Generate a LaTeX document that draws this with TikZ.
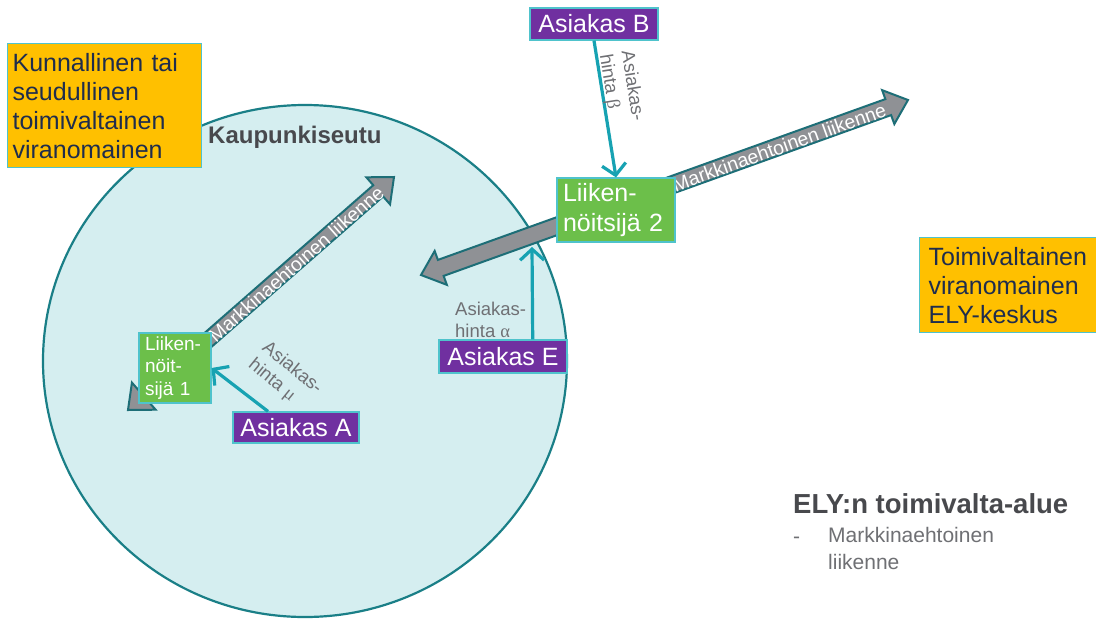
\documentclass[tikz,border=0pt]{standalone}
\usepackage{fontspec}
\setmainfont{Liberation Sans}
\newfontfamily\grk{Liberation Serif}
\usetikzlibrary{calc,arrows.meta}
\definecolor{orangeC}{HTML}{FFC000}
\definecolor{navy}{HTML}{1F2D4D}
\definecolor{boxline}{HTML}{4FC3CC}
\definecolor{purpleC}{HTML}{7030A0}
\definecolor{greenC}{HTML}{6CBF4A}
\definecolor{cityfill}{HTML}{D5EEF0}
\definecolor{cityline}{HTML}{1A7F87}
\definecolor{arrowC}{HTML}{17A2B2}
\definecolor{grayfill}{HTML}{8F9195}
\definecolor{grayline}{HTML}{1D6E77}
\definecolor{lblgray}{HTML}{6F7074}
\definecolor{darkgray}{HTML}{48494D}
\newcommand\dblarrow[3]{%
  \coordinate (ha) at ($(#1)!21pt!(#2)$);
  \coordinate (hb) at ($(#2)!21pt!(#1)$);
  \draw[bigarrow] (#1) -- ($(ha)!18pt!90:(#2)$) -- ($(ha)!#3!90:(#2)$)
    -- ($(hb)!#3!-90:(#1)$) -- ($(hb)!18pt!-90:(#1)$) -- (#2)
    -- ($(hb)!18pt!90:(#1)$) -- ($(hb)!#3!90:(#1)$)
    -- ($(ha)!#3!-90:(#2)$) -- ($(ha)!18pt!-90:(#2)$) -- cycle;
}
\begin{document}
\begin{tikzpicture}[x=1pt,y=-1pt,
  orangebox/.style={draw=boxline, line width=1.2pt, fill=orangeC, text=navy, align=left, inner ysep=0pt, font=\fontsize{25}{29}\selectfont},
  purplebox/.style={draw=boxline, line width=1.2pt, fill=purpleC, text=white, inner sep=0pt, font=\fontsize{25}{30}\selectfont},
  greenbox/.style={draw=boxline, line width=1.2pt, fill=greenC, text=white, align=left, inner ysep=0pt},
  bigarrow/.style={draw=grayline, fill=grayfill, line width=2pt, line join=miter},
  arrowtext/.style={text=white, font=\fontsize{19.5}{21}\selectfont, inner sep=0pt},
  smallarrow/.style={draw=arrowC, line width=3.2pt, -{Straight Barb[length=11pt, width=24pt, line width=3.2pt]}},
  lbl/.style={text=lblgray, font=\fontsize{18.5}{22}\selectfont, align=left, inner sep=0pt},
]
\useasboundingbox (0,0) rectangle (1096,619);
\fill[white] (0,0) rectangle (1096,619);
% city region
\draw[cityline, fill=cityfill, line width=2.2pt] (305,361) ellipse [x radius=262pt, y radius=256pt];
\node[anchor=base west, inner sep=0pt, text=darkgray, font=\bfseries\fontsize{24}{28}\selectfont] (kseutu) at (208,143) {Kaupunkiseutu};
% big arrows
\coordinate (c1a) at (128,410);
\coordinate (c1b) at (394,177);
\coordinate (c2a) at (421,275);
\coordinate (c2b) at (908,100);
\dblarrow{c1a}{c1b}{7.5pt}
\path (c1a) -- (c1b) node[pos=0.63, sloped, arrowtext, yshift=-1pt] {Markkinaehtoinen liikenne};
\dblarrow{c2a}{c2b}{8.5pt}
\path (c2a) -- (c2b) node[pos=0.735, sloped, arrowtext, yshift=-1pt] {Markkinaehtoinen liikenne};
% boxes
\node[orangebox, text width=184pt, inner xsep=5pt, minimum height=124pt, anchor=north west] (kunta) at (7,43) {Kunnallinen tai\\seudullinen\\toimivaltainen\\viranomainen};
\node[orangebox, text width=172pt, inner xsep=9pt, minimum height=95pt, anchor=north west] (ely) at (919,237) {Toimivaltainen\\viranomainen\\ELY-keskus};
\node[purplebox, minimum width=128pt, minimum height=32pt] (B) at (594,24) {Asiakas B};
\node[greenbox, text width=106pt, inner xsep=6pt, minimum height=64pt, font=\fontsize{25}{30}\selectfont] (L2) at (616,210) {Liiken-\\nöitsijä 2};
\node[greenbox, text width=60pt, inner xsep=6pt, minimum height=70pt, font=\fontsize{19}{22.5}\selectfont] (L1) at (175,368) {Liiken-\\nöit-\\sijä 1};
\node[purplebox, minimum width=126pt, minimum height=31pt] (A) at (296,427.5) {Asiakas A};
\node[purplebox, minimum width=128pt, minimum height=33pt] (E) at (503,356.5) {Asiakas E};
% customer price arrows
\coordinate (eTip) at (532,247);
\draw[smallarrow] (B.south) -- (L2.north);
\draw[smallarrow] ($(A.north west)!0.28!(A.north east)$) -- (L1.east);
\draw[smallarrow] ($(E.north west)!0.73!(E.north east)$) coordinate (eStart) -- (eTip);
\node[lbl, rotate=-81] (lb) at (621,88) {Asiakas-\\hinta {\grk β}};
\node[lbl, rotate=-39] (la) at (285,377) {Asiakas-\\hinta {\grk μ}};
\node[lbl, anchor=west] (le) at (455,320) {Asiakas-\\hinta {\grk α}};
% legend
\node[anchor=base west, inner sep=0pt, text=darkgray, font=\bfseries\fontsize{27.5}{30}\selectfont] (elyt) at (793,513) {ELY:n toimivalta-alue};
\node[anchor=base west, inner sep=0pt, text=lblgray, font=\fontsize{21}{27}\selectfont] (dash) at (793,543) {-};
\node[anchor=north west, inner sep=0pt, text=lblgray, align=left, font=\fontsize{21}{27}\selectfont] (mark) at (828,527) {Markkinaehtoinen\\liikenne};
\end{tikzpicture}
\end{document}
